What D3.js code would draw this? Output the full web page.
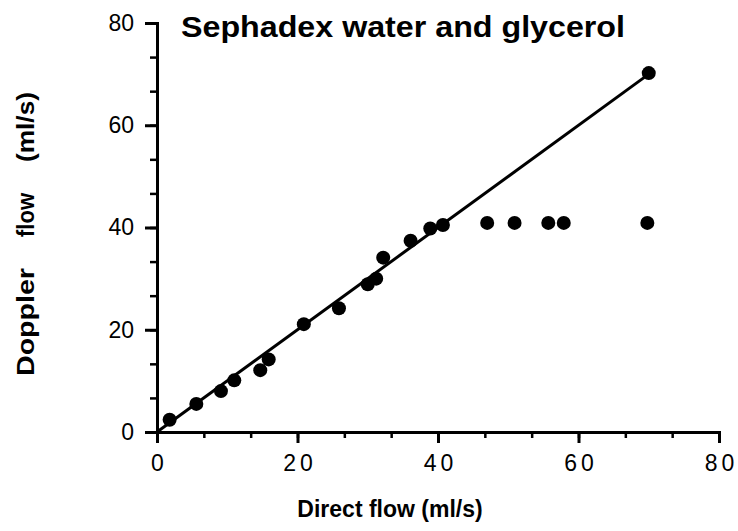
<!DOCTYPE html>
<html>
<head>
<meta charset="utf-8">
<script src="https://cdn.jsdelivr.net/npm/d3@7"></script>
<style>
body { margin:0; background:#fff; }
text { font-family: "Liberation Sans", Arial, Helvetica, sans-serif; fill:#000; }
</style>
</head>
<body>
<div id="chart"></div>
<script>
var width = 738
var height = 531
// data
var directFlow  = [1.8, 5.6, 9.1, 11.0, 14.7, 15.9, 20.9, 25.9, 30.0, 31.2, 32.2, 36.1, 38.9, 40.7, 47.0, 50.9, 55.7, 57.9, 69.8, 70.0]
var dopplerFlow = [2.4, 5.5, 8.0, 10.1, 12.1, 14.2, 21.1, 24.2, 28.9, 30.0, 34.1, 37.4, 39.8, 40.5, 40.9, 40.9, 40.9, 40.9, 40.9, 70.2]
var fitX = [0, 70]
var fitY = [0, 70]
var majorTicks = [0, 20, 40, 60, 80]
var minorTicks = d3.range(0, 13).map(function(i){ return i*20/3 })
var title = "Sephadex water and glycerol"
var xTitle = "Direct flow (ml/s)"
var yTitleWords = ["Doppler", "flow", "(ml/s)"]

var plotLeft = 157, plotRight = 719, plotTop = 23, plotBottom = 432

var svg = d3.select("#chart").append("svg")
	.attr("width", width)
	.attr("height", height)

var x = d3.scaleLinear().domain([0, 80]).range([plotLeft, plotRight])
var y = d3.scaleLinear().domain([0, 80]).range([plotBottom, plotTop])

// x axis: minor ticks then major ticks with labels
var xMinor = svg.append("g")
	.attr("transform", "translate(0," + plotBottom + ")")
	.call(d3.axisBottom(x).tickValues(minorTicks).tickSize(6).tickFormat(""))
xMinor.select(".domain").attr("stroke-width", 3)
xMinor.selectAll(".tick line").attr("stroke-width", 2.5)

var xMajor = svg.append("g")
	.attr("transform", "translate(0," + plotBottom + ")")
	.call(d3.axisBottom(x).tickValues(majorTicks).tickSize(11).tickPadding(12).tickFormat(d3.format("d")))
xMajor.select(".domain").remove()
xMajor.selectAll(".tick line").attr("stroke-width", 3)
xMajor.selectAll(".tick text")
	.style("font-size", "23px")
	.style("letter-spacing", "4px")
	.attr("dx", "2px")

// y axis
var yMinor = svg.append("g")
	.attr("transform", "translate(" + plotLeft + ",0)")
	.call(d3.axisLeft(y).tickValues(minorTicks).tickSize(7).tickFormat(""))
yMinor.select(".domain").attr("stroke-width", 3)
yMinor.selectAll(".tick line").attr("stroke-width", 2.5)

var yMajor = svg.append("g")
	.attr("transform", "translate(" + plotLeft + ",0)")
	.call(d3.axisLeft(y).tickValues(majorTicks).tickSize(12).tickPadding(11).tickFormat(d3.format("d")))
yMajor.select(".domain").remove()
yMajor.selectAll(".tick line").attr("stroke-width", 3)
yMajor.selectAll(".tick text").style("font-size", "23px")

svg.selectAll(".domain").attr("stroke", "#000")

// fitted line
var line = d3.line()
	.x(function(d){ return x(d[0]) })
	.y(function(d){ return y(d[1]) })
svg.append("path")
	.datum(fitX.map(function(v, i){ return [v, fitY[i]] }))
	.attr("d", line)
	.attr("fill", "none")
	.attr("stroke", "#000")
	.attr("stroke-width", 3)

// points
svg.selectAll(".pt")
	.data(directFlow.map(function(v, i){ return [v, dopplerFlow[i]] }))
	.enter()
	.append("circle")
	.attr("class", "pt")
	.attr("cx", function(d){ return x(d[0]) })
	.attr("cy", function(d){ return y(d[1]) })
	.attr("r", 7)
	.attr("fill", "#000")

// titles
svg.append("text")
	.attr("x", 181)
	.attr("y", 37)
	.attr("textLength", 444)
	.attr("lengthAdjust", "spacingAndGlyphs")
	.style("font-size", "30px")
	.style("font-weight", "bold")
	.text(title)

svg.append("text")
	.attr("x", 390)
	.attr("y", 517)
	.attr("text-anchor", "middle")
	.style("font-size", "23px")
	.style("font-weight", "bold")
	.text(xTitle)

var yWordCenters = [322, 215, 127]
var yWordLengths = [108, 44, 70]
yTitleWords.forEach(function(w, i){
	svg.append("text")
		.attr("transform", "translate(34," + yWordCenters[i] + ") rotate(-90)")
		.attr("text-anchor", "middle")
		.attr("textLength", yWordLengths[i])
		.attr("lengthAdjust", "spacingAndGlyphs")
		.style("font-size", "23px")
		.style("font-weight", "bold")
		.text(w)
})
</script>
</body>
</html>
